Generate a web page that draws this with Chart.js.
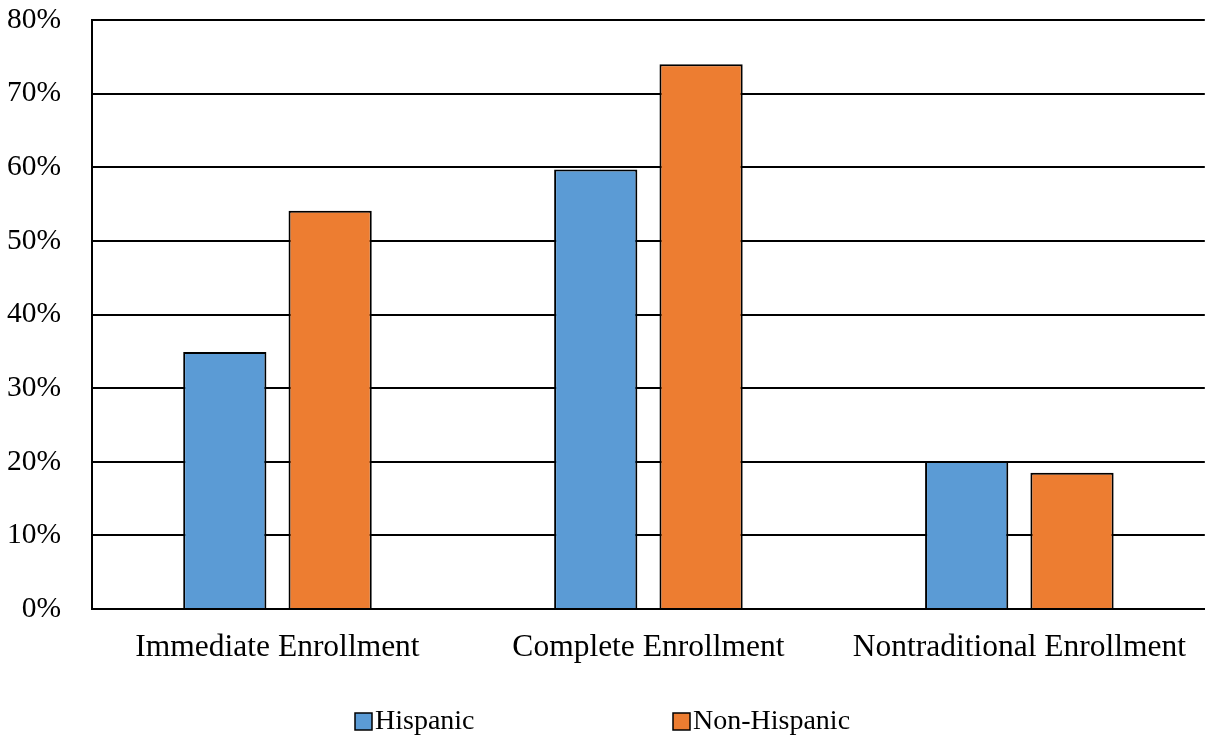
<!DOCTYPE html>
<html>
<head>
<meta charset="utf-8">
<script src="https://cdn.jsdelivr.net/npm/chart.js@4/dist/chart.umd.min.js"></script>
<style>
  html, body { margin: 0; padding: 0; background: #fff; }
  #wrap { width: 1206px; height: 740px; position: relative; }
</style>
</head>
<body>
<div id="wrap"><canvas id="enrollment-chart"></canvas></div>
<script>
const categories = ['Immediate Enrollment', 'Complete Enrollment', 'Nontraditional Enrollment'];
const hispanic = [34.9, 59.7, 20.1];
const nonHispanic = [54.1, 74.0, 18.5];
const yTicks = [0, 10, 20, 30, 40, 50, 60, 70, 80];

const FONT = '"Liberation Serif", "Times New Roman", serif';

// legend drawn under the plot, items spread apart like an office chart
const spreadLegend = {
    id: 'spreadLegend',
    afterDraw(chart) {
        const ctx = chart.ctx;
        const slots = [355, 673];
        const y = 721;
        ctx.save();
        ctx.font = '28px ' + FONT;
        ctx.textBaseline = 'middle';
        ctx.textAlign = 'left';
        chart.data.datasets.forEach((ds, i) => {
            const x = slots[i];
            ctx.fillStyle = ds.backgroundColor;
            ctx.fillRect(x, y - 8, 17, 17);
            ctx.strokeStyle = '#000';
            ctx.lineWidth = 1.5;
            ctx.strokeRect(x, y - 8, 17, 17);
            ctx.fillStyle = '#000';
            ctx.fillText(ds.label, x + 20, y + 1);
        });
        ctx.restore();
    }
};

const ctx = document.getElementById('enrollment-chart');
new Chart(ctx, {
    type: 'bar',
    data: {
        labels: categories,
        datasets: [
            {
                label: 'Hispanic',
                data: hispanic,
                backgroundColor: '#5B9BD5',
                borderColor: '#000',
                borderWidth: 2,
                borderSkipped: 'bottom'
            },
            {
                label: 'Non-Hispanic',
                data: nonHispanic,
                backgroundColor: '#ED7D31',
                borderColor: '#000',
                borderWidth: 2,
                borderSkipped: 'bottom'
            }
        ]
    },
    options: {
        responsive: true,
        maintainAspectRatio: false,
        animation: false,
        categoryPercentage: 0.568,
        barPercentage: 0.79,
        layout: { padding: { top: 0, left: 6, right: 0, bottom: 71 } },
        plugins: {
            legend: { display: false },
            tooltip: { enabled: false }
        },
        scales: {
            x: {
                afterFit: axis => { axis.height = 60; },
                grid: { display: false, drawTicks: false },
                border: { display: true, color: '#000', width: 2 },
                ticks: { color: '#000', font: { family: FONT, size: 31.5 }, padding: 20, maxRotation: 0 }
            },
            y: {
                min: 0,
                max: 80,
                afterFit: axis => {
                    axis.width = 86;
                    axis.paddingTop = 20;
                    axis.paddingBottom = 0;
                },
                afterBuildTicks: axis => { axis.ticks = yTicks.map(v => ({ value: v })); },
                grid: { color: '#000', lineWidth: 2, drawTicks: false },
                border: { display: true, color: '#000', width: 2 },
                ticks: {
                    color: '#000',
                    font: { family: FONT, size: 29.5 },
                    padding: 31,
                    callback: v => v + '%'
                }
            }
        }
    },
    plugins: [spreadLegend]
});
</script>
</body>
</html>
